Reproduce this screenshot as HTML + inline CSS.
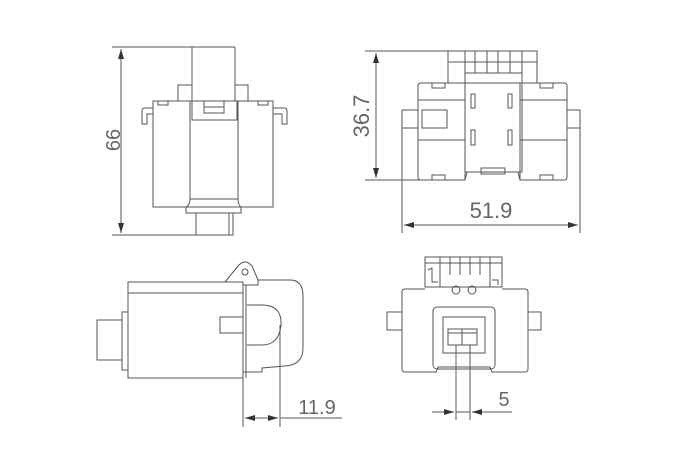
<!DOCTYPE html>
<html><head><style>html,body{margin:0;padding:0;background:#fff}svg{display:block}</style></head><body>
<svg width="690" height="471" viewBox="0 0 690 471" xmlns="http://www.w3.org/2000/svg">
<defs>
<marker id="a" viewBox="0 0 10 6" refX="10" refY="3" markerWidth="10" markerHeight="6" orient="auto-start-reverse" markerUnits="userSpaceOnUse"><path d="M0,0 L10,3 L0,6 z" fill="#333"/></marker>
</defs>
<g fill="none" stroke="#555" stroke-width="1">
<!-- View 1 -->
<line x1="112" y1="47" x2="235" y2="47"/>
<line x1="112" y1="235" x2="230" y2="235"/>
<line x1="121" y1="49" x2="121" y2="233" marker-start="url(#a)" marker-end="url(#a)"/>
<line x1="192" y1="47" x2="192" y2="120"/><line x1="235" y1="47" x2="235" y2="101"/>
<rect x="178" y="85" width="14" height="16"/><rect x="235" y="85" width="13" height="16"/>
<rect x="153" y="101" width="120" height="106"/>
<line x1="190" y1="101" x2="190" y2="199"/><line x1="238" y1="101" x2="238" y2="199"/>
<rect x="192" y="101" width="45" height="19"/>
<rect x="204" y="101" width="20" height="12"/>
<line x1="204" y1="107" x2="224" y2="107"/>
<path d="M153,108 L145,108 Q142,108 142,111 L142,124 L147,124 L147,114 L153,114"/>
<path d="M273,108 L284,108 Q287,108 287,111 L287,124 L282,124 L282,114 L273,114"/>
<rect x="158" y="101" width="10" height="4"/><rect x="258" y="101" width="10" height="4"/>
<path d="M190,199 Q190,205 186,207 L186,213 L241,213 L241,207 Q238,205 238,199 Z"/>
<rect x="196" y="213" width="37" height="22"/>
<line x1="229" y1="213" x2="229" y2="235"/>
<!-- View 2 -->
<line x1="365" y1="51" x2="537" y2="51"/>
<line x1="365" y1="180" x2="420" y2="180"/>
<line x1="376" y1="53" x2="376" y2="178" marker-start="url(#a)" marker-end="url(#a)"/>
<rect x="448" y="51" width="89" height="32"/>
<line x1="465" y1="51" x2="465" y2="83"/><line x1="475" y1="51" x2="475" y2="73"/><line x1="487" y1="51" x2="487" y2="73"/><line x1="498" y1="51" x2="498" y2="73"/><line x1="510" y1="51" x2="510" y2="73"/><line x1="522" y1="51" x2="522" y2="83"/>
<line x1="448" y1="62" x2="537" y2="62"/><line x1="465" y1="73" x2="522" y2="73"/>
<path d="M448,83 L421,83 Q418,83 418,86 L418,177 Q418,180 421,180 L465,180 L467,172 L518,172 L520,180 L564,180 Q567,180 567,177 L567,86 Q567,83 564,83 L537,83"/>
<path d="M465,83 L465,180 M520,83 L520,180"/>
<rect x="465" y="73" width="57" height="99"/>
<rect x="432" y="83" width="13" height="5"/><rect x="540" y="83" width="13" height="5"/>
<rect x="432" y="175" width="13" height="5"/><rect x="540" y="175" width="13" height="5"/>
<rect x="481" y="168" width="24" height="6"/>
<line x1="418" y1="100" x2="465" y2="100"/><line x1="520" y1="100" x2="567" y2="100"/>
<line x1="418" y1="140" x2="465" y2="140"/><line x1="520" y1="140" x2="567" y2="140"/>
<rect x="402" y="110" width="16" height="18"/><rect x="567" y="110" width="13" height="18"/>
<rect x="422" y="110" width="25" height="18"/>
<rect x="471" y="94" width="4" height="14"/><rect x="508" y="94" width="4" height="14"/>
<rect x="471" y="130" width="4" height="15"/><rect x="508" y="130" width="4" height="15"/>
<line x1="402" y1="128" x2="402" y2="233"/><line x1="580" y1="128" x2="580" y2="233"/>
<line x1="404" y1="225" x2="578" y2="225" marker-start="url(#a)" marker-end="url(#a)"/>
<!-- View 3 -->
<rect x="128" y="282" width="115" height="96"/>
<line x1="128" y1="293" x2="243" y2="293"/>
<rect x="122" y="312" width="6" height="58"/>
<rect x="97" y="320" width="25" height="40"/>
<path d="M225,282 L238,266 Q245,258 252,266 L258,280"/>
<circle cx="245" cy="272" r="3"/>
<path d="M258,280 L290,280 Q303,280 303,296 L303,348 Q303,365 285,366 L262,368 L262,372 L243,372"/>
<path d="M243,285 L258,285 L258,280"/>
<path d="M246,285 L246,378 M247,305 L262,305 Q282,305 281,325 Q279,345 262,345 L247,345"/>
<rect x="220" y="317" width="23" height="16"/>
<line x1="243" y1="378" x2="243" y2="427"/>
<line x1="280" y1="325" x2="280" y2="427"/>
<line x1="245" y1="418" x2="278" y2="418" marker-start="url(#a)" marker-end="url(#a)"/>
<line x1="280" y1="418" x2="342" y2="418"/>
<!-- View 4 -->
<rect x="425" y="257" width="77" height="30"/>
<line x1="440" y1="257" x2="440" y2="287"/><line x1="450" y1="257" x2="450" y2="275"/><line x1="460" y1="257" x2="460" y2="275"/><line x1="470" y1="257" x2="470" y2="275"/><line x1="480" y1="257" x2="480" y2="275"/><line x1="490" y1="257" x2="490" y2="287"/>
<line x1="425" y1="263" x2="502" y2="263"/>
<path d="M428,270 L432,268 L432,282 L438,282"/><path d="M492,280 L498,280 L498,285"/>
<circle cx="456" cy="290" r="4"/><circle cx="472" cy="290" r="4"/>
<path d="M405,289 L425,289 M502,289 L525,289 Q528,289 528,292 L528,369 Q528,372 525,372 L492,372 L490,367 L438,367 L436,372 L405,372 Q402,372 402,369 L402,292 Q402,289 405,289"/>
<rect x="433" y="307" width="62" height="62" rx="4"/>
<rect x="387" y="312" width="15" height="18"/><rect x="528" y="312" width="13" height="18"/>
<rect x="443" y="317" width="42" height="36"/>
<rect x="448" y="329" width="29" height="16"/>
<line x1="462" y1="329" x2="462" y2="345"/><line x1="448" y1="333" x2="477" y2="333"/>
<line x1="456" y1="345" x2="456" y2="420"/><line x1="470" y1="345" x2="470" y2="420"/>
<line x1="432" y1="412" x2="454" y2="412" marker-end="url(#a)"/>
<line x1="456" y1="412" x2="470" y2="412"/>
<line x1="494" y1="412" x2="472" y2="412" marker-end="url(#a)"/>
<line x1="494" y1="412" x2="512" y2="412"/>
</g>
<g fill="#666" font-family="Liberation Sans, sans-serif">
<text x="0" y="0" font-size="20" transform="translate(120,140) rotate(-90)" text-anchor="middle">66</text>
<text x="0" y="0" font-size="22" transform="translate(369,116) rotate(-90)" text-anchor="middle">36.7</text>
<text x="491" y="218" font-size="22" text-anchor="middle">51.9</text>
<text x="317" y="414" font-size="20" text-anchor="middle">11.9</text>
<text x="504" y="406" font-size="20" text-anchor="middle">5</text>
</g>
</svg>
</body></html>
